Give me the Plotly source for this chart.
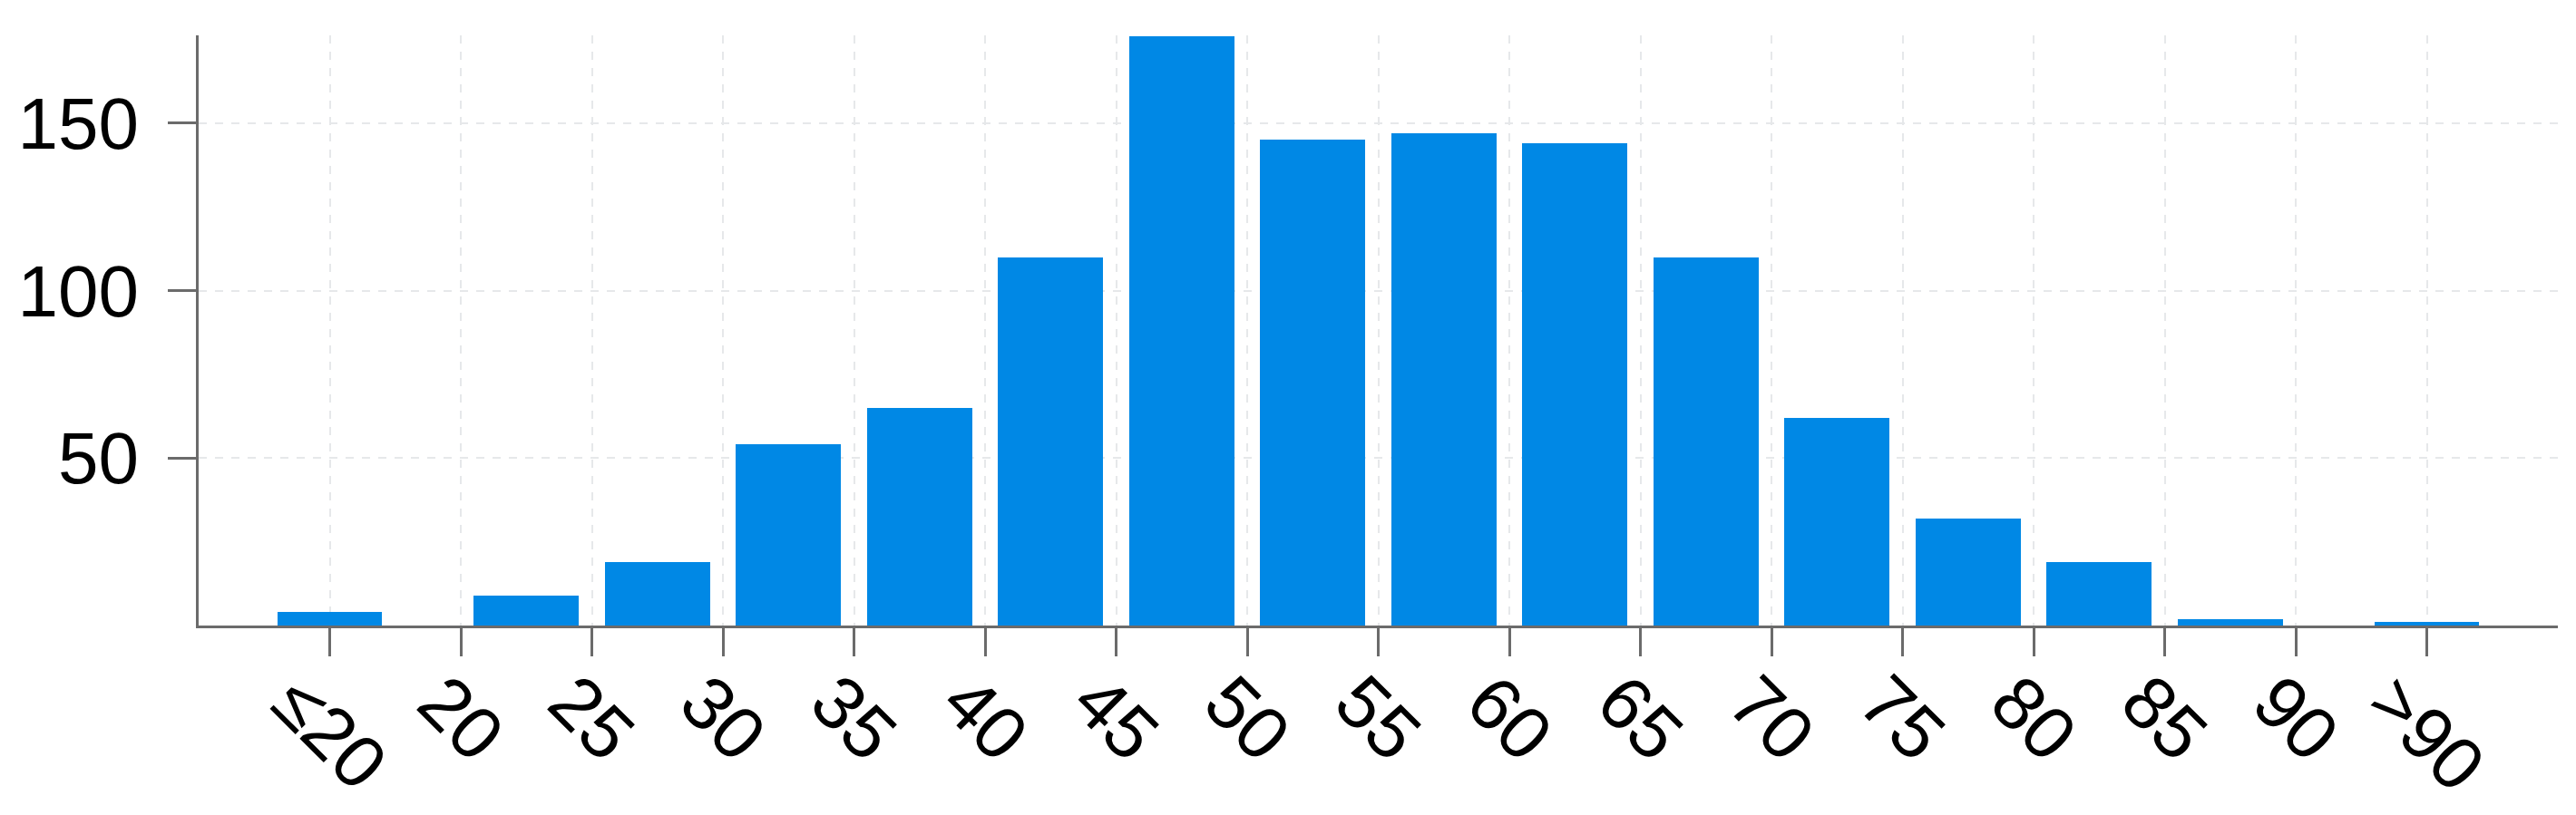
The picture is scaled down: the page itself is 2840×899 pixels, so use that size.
import plotly.graph_objects as go

# tick labels along the x axis (ages) and the binned counts
tick_labels = ["≤20", "20", "25", "30", "35", "40", "45", "50", "55",
               "60", "65", "70", "75", "80", "85", "90", ">90"]
bin_edges = [("≤20", "≤20"), ("20", "25"), ("25", "30"), ("30", "35"),
             ("35", "40"), ("40", "45"), ("45", "50"), ("50", "55"),
             ("55", "60"), ("60", "65"), ("65", "70"), ("70", "75"),
             ("75", "80"), ("80", "85"), ("85", "90"), (">90", ">90")]
counts = [4, 9, 19, 54, 65, 110, 176, 145, 147, 144, 110, 62, 32, 19, 2, 1]
y_ticks = [50, 100, 150]

FONT = "Liberation Sans, Arial, sans-serif"
BAR = "#0088e5"
AXIS = "#6b6b6b"
GRID = "#e6e8ea"

# each tick label sits 5 units apart on a numeric axis
tick_pos = {lab: 15 + 5 * i for i, lab in enumerate(tick_labels)}
centers = [(tick_pos[a] + tick_pos[b]) / 2 for a, b in bin_edges]

fig = go.Figure(
    go.Bar(
        x=centers,
        y=counts,
        width=4,
        marker=dict(color=BAR, line=dict(width=0)),
        showlegend=False,
    )
)

# rotated x labels, centred under each tick
for lab in tick_labels:
    fig.add_annotation(
        x=tick_pos[lab], xref="x",
        y=0, yref="paper",
        text=lab,
        showarrow=False,
        textangle=45,
        xanchor="center", yanchor="top",
        yshift=-36,
        borderpad=0,
        font=dict(family=FONT, size=82, color="black"),
    )

fig.update_layout(
    width=2840, height=899,
    margin=dict(l=207, r=28, t=31, b=217),
    plot_bgcolor="white",
    paper_bgcolor="white",
    bargap=0,
    xaxis=dict(
        range=[10, 100],
        tickvals=[tick_pos[l] for l in tick_labels],
        showticklabels=False,
        ticks="outside", ticklen=31, tickwidth=3, tickcolor=AXIS,
        showline=True, linecolor=AXIS, linewidth=3,
        showgrid=True, gridcolor=GRID, gridwidth=2, griddash="dash",
        zeroline=False,
    ),
    yaxis=dict(
        range=[0, 176.2],
        tickvals=y_ticks,
        ticks="outside", ticklen=31, tickwidth=3, tickcolor=AXIS,
        ticklabelstandoff=16,
        tickfont=dict(family=FONT, size=80, color="black"),
        showline=True, linecolor=AXIS, linewidth=3,
        showgrid=True, gridcolor=GRID, gridwidth=2, griddash="dash",
        zeroline=False,
    ),
)

fig.write_html("out.html")
